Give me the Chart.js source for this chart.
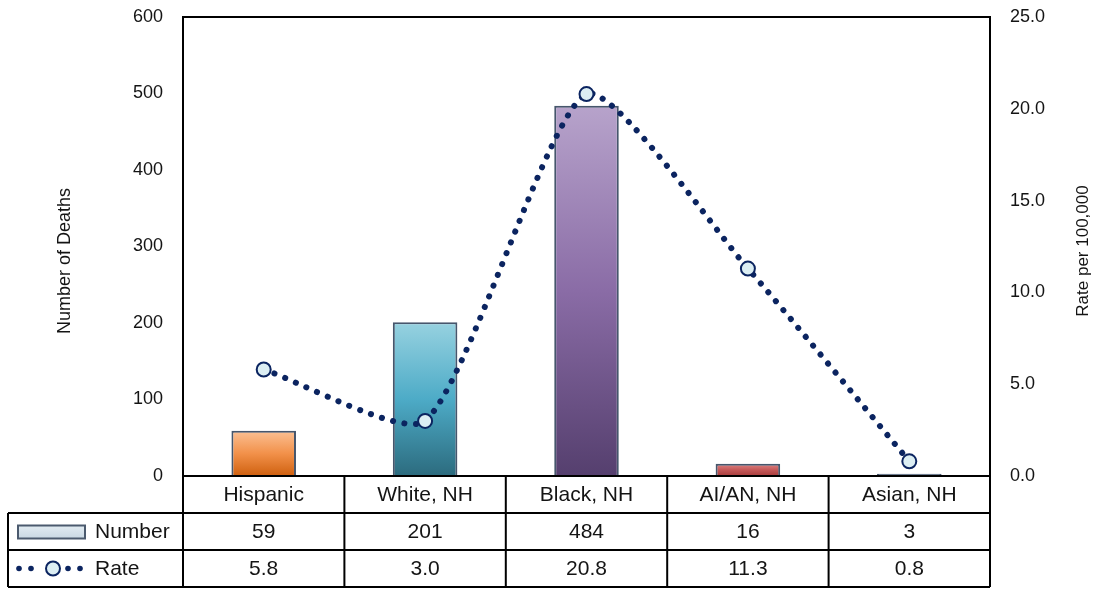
<!DOCTYPE html>
<html>
<head>
<meta charset="utf-8">
<script src="https://cdn.jsdelivr.net/npm/chart.js@4/dist/chart.umd.min.js"></script>
<style>
  html, body { margin: 0; padding: 0; background: #fff; }
  #wrap { width: 1095px; height: 589px; position: relative; }
</style>
</head>
<body>
<div id="wrap"><canvas id="c" width="1095" height="589"></canvas></div>
<script>
// Deaths and rates by race/ethnicity
const categories = ['Hispanic', 'White, NH', 'Black, NH', 'AI/AN, NH', 'Asian, NH'];
const deaths = [59, 201, 484, 16, 3];
const rates = [5.8, 3.0, 20.8, 11.3, 0.8];
const rateLabels = ['5.8', '3.0', '20.8', '11.3', '0.8'];
const deathTicks = [0, 100, 200, 300, 400, 500, 600];
const rateTicks = ['0.0', '5.0', '10.0', '15.0', '20.0', '25.0'];

// Gradient stops per bar: [top, middle, bottom]
const barGradients = [
  ['#fbc094', '#f2914a', '#cf600f'],
  ['#97d2e0', '#4dabc7', '#2c6b7e'],
  ['#b7a3cb', '#8a6ca6', '#553f6e'],
  ['#e08585', '#c45858', '#a83c3c'],
  ['#7c8ea6', '#5c6f88', '#44556d']
];

const FONT = '"Liberation Sans", Arial, sans-serif';
const NAVY = '#0b2460';
const TEXT = '#141414';

function barFill(ctx) {
  const chart = ctx.chart;
  const y = chart.scales.y;
  if (!chart.chartArea || !y || ctx.dataIndex === undefined) return barGradients[0][1];
  const stops = barGradients[ctx.dataIndex];
  const top = y.getPixelForValue(deaths[ctx.dataIndex]);
  const bottom = y.getPixelForValue(0);
  const g = chart.ctx.createLinearGradient(0, top, 0, bottom);
  g.addColorStop(0, stops[0]);
  g.addColorStop(0.5, stops[1]);
  g.addColorStop(1, stops[2]);
  return g;
}

// Fixed-width value axes that do not reserve extra room above/below the plot
function fixAxis(width) {
  return function (scale) {
    scale.width = width;
    scale.paddingTop = 0;
    scale.paddingBottom = 0;
  };
}

// Plot frame, axis titles and the data table beneath the plot
const tablePlugin = {
  id: 'tablePlugin',
  afterDraw(chart) {
    const c = chart.ctx;
    const a = chart.chartArea;
    const rowH = 37;
    const n = categories.length;
    const colW = (a.right - a.left) / n;
    const tableLeft = 8;
    c.save();

    // plot frame
    c.strokeStyle = '#000';
    c.lineWidth = 2;
    c.strokeRect(a.left, a.top, a.right - a.left, a.bottom - a.top);

    // table grid
    c.beginPath();
    for (let i = 0; i <= n; i++) {
      const x = a.left + i * colW;
      c.moveTo(x, a.bottom);
      c.lineTo(x, a.bottom + 3 * rowH);
    }
    c.moveTo(tableLeft, a.bottom + rowH);
    c.lineTo(tableLeft, a.bottom + 3 * rowH);
    for (let r = 1; r <= 3; r++) {
      c.moveTo(tableLeft, a.bottom + r * rowH);
      c.lineTo(a.right, a.bottom + r * rowH);
    }
    c.stroke();

    // table text
    c.fillStyle = TEXT;
    c.font = '21px ' + FONT;
    c.textAlign = 'center';
    c.textBaseline = 'middle';
    for (let i = 0; i < n; i++) {
      const cx = a.left + (i + 0.5) * colW;
      c.fillText(categories[i], cx, a.bottom + rowH * 0.5 + 1);
      c.fillText(String(deaths[i]), cx, a.bottom + rowH * 1.5 + 1);
      c.fillText(rateLabels[i], cx, a.bottom + rowH * 2.5 + 1);
    }

    // legend keys
    const nY = a.bottom + rowH * 1.5;
    const kg = c.createLinearGradient(0, nY - 7, 0, nY + 7);
    kg.addColorStop(0, '#e4edf3');
    kg.addColorStop(1, '#c9d8e3');
    c.fillStyle = kg;
    c.fillRect(18, nY - 6, 67, 13);
    c.strokeStyle = '#4b5a6e';
    c.lineWidth = 2;
    c.strokeRect(18, nY - 6, 67, 13);

    const rY = a.bottom + rowH * 2.5;
    c.fillStyle = NAVY;
    [19, 31, 68, 80].forEach(x => {
      c.beginPath();
      c.arc(x, rY, 2.8, 0, Math.PI * 2);
      c.fill();
    });
    c.beginPath();
    c.arc(53, rY, 7, 0, Math.PI * 2);
    c.fillStyle = '#dceef3';
    c.fill();
    c.strokeStyle = NAVY;
    c.lineWidth = 2;
    c.stroke();

    c.fillStyle = TEXT;
    c.textAlign = 'left';
    c.fillText('Number', 95, nY + 1);
    c.fillText('Rate', 95, rY + 1);

    // axis titles
    c.font = '18px ' + FONT;
    c.textAlign = 'center';
    c.save();
    c.translate(65, 261);
    c.rotate(-Math.PI / 2);
    c.fillText('Number of Deaths', 0, 0);
    c.restore();
    c.font = '17px ' + FONT;
    c.save();
    c.translate(1083, 251);
    c.rotate(-Math.PI / 2);
    c.fillText('Rate per 100,000', 0, 0);
    c.restore();

    c.restore();
  }
};

new Chart(document.getElementById('c'), {
  data: {
    labels: categories,
    datasets: [
      {
        type: 'line',
        label: 'Rate',
        data: rates,
        yAxisID: 'y1',
        order: 0,
        borderColor: NAVY,
        borderWidth: 6,
        borderDash: [0.1, 11.5],
        borderCapStyle: 'round',
        tension: 0.2,
        fill: false,
        pointRadius: 7,
        pointBorderWidth: 2,
        pointBackgroundColor: '#dceef3',
        pointBorderColor: NAVY,
        clip: false
      },
      {
        type: 'bar',
        label: 'Number',
        data: deaths,
        yAxisID: 'y',
        order: 1,
        backgroundColor: barFill,
        borderColor: '#46566c',
        borderWidth: 2,
        borderSkipped: 'bottom',
        categoryPercentage: 1.0,
        barPercentage: 0.4
      }
    ]
  },
  options: {
    responsive: false,
    animation: false,
    devicePixelRatio: 1,
    layout: { padding: { top: 17, bottom: 113, left: 0, right: 0 } },
    plugins: {
      legend: { display: false },
      tooltip: { enabled: false }
    },
    scales: {
      x: {
        type: 'category',
        display: false
      },
      y: {
        position: 'left',
        min: 0,
        max: 600,
        afterBuildTicks(scale) { scale.ticks = deathTicks.map(v => ({ value: v })); },
        afterFit: fixAxis(183),
        grid: { display: false, drawTicks: false },
        border: { display: false },
        ticks: {
          padding: 20,
          color: TEXT,
          font: { family: FONT, size: 18 },
          callback: v => String(v)
        }
      },
      y1: {
        position: 'right',
        min: 0,
        max: 25,
        afterBuildTicks(scale) { scale.ticks = rateTicks.map(t => ({ value: parseFloat(t) })); },
        afterFit: fixAxis(105),
        grid: { display: false, drawTicks: false },
        border: { display: false },
        ticks: {
          padding: 20,
          color: TEXT,
          font: { family: FONT, size: 18 },
          callback: (v, i) => rateTicks[i]
        }
      }
    }
  },
  plugins: [tablePlugin]
});
</script>
</body>
</html>
